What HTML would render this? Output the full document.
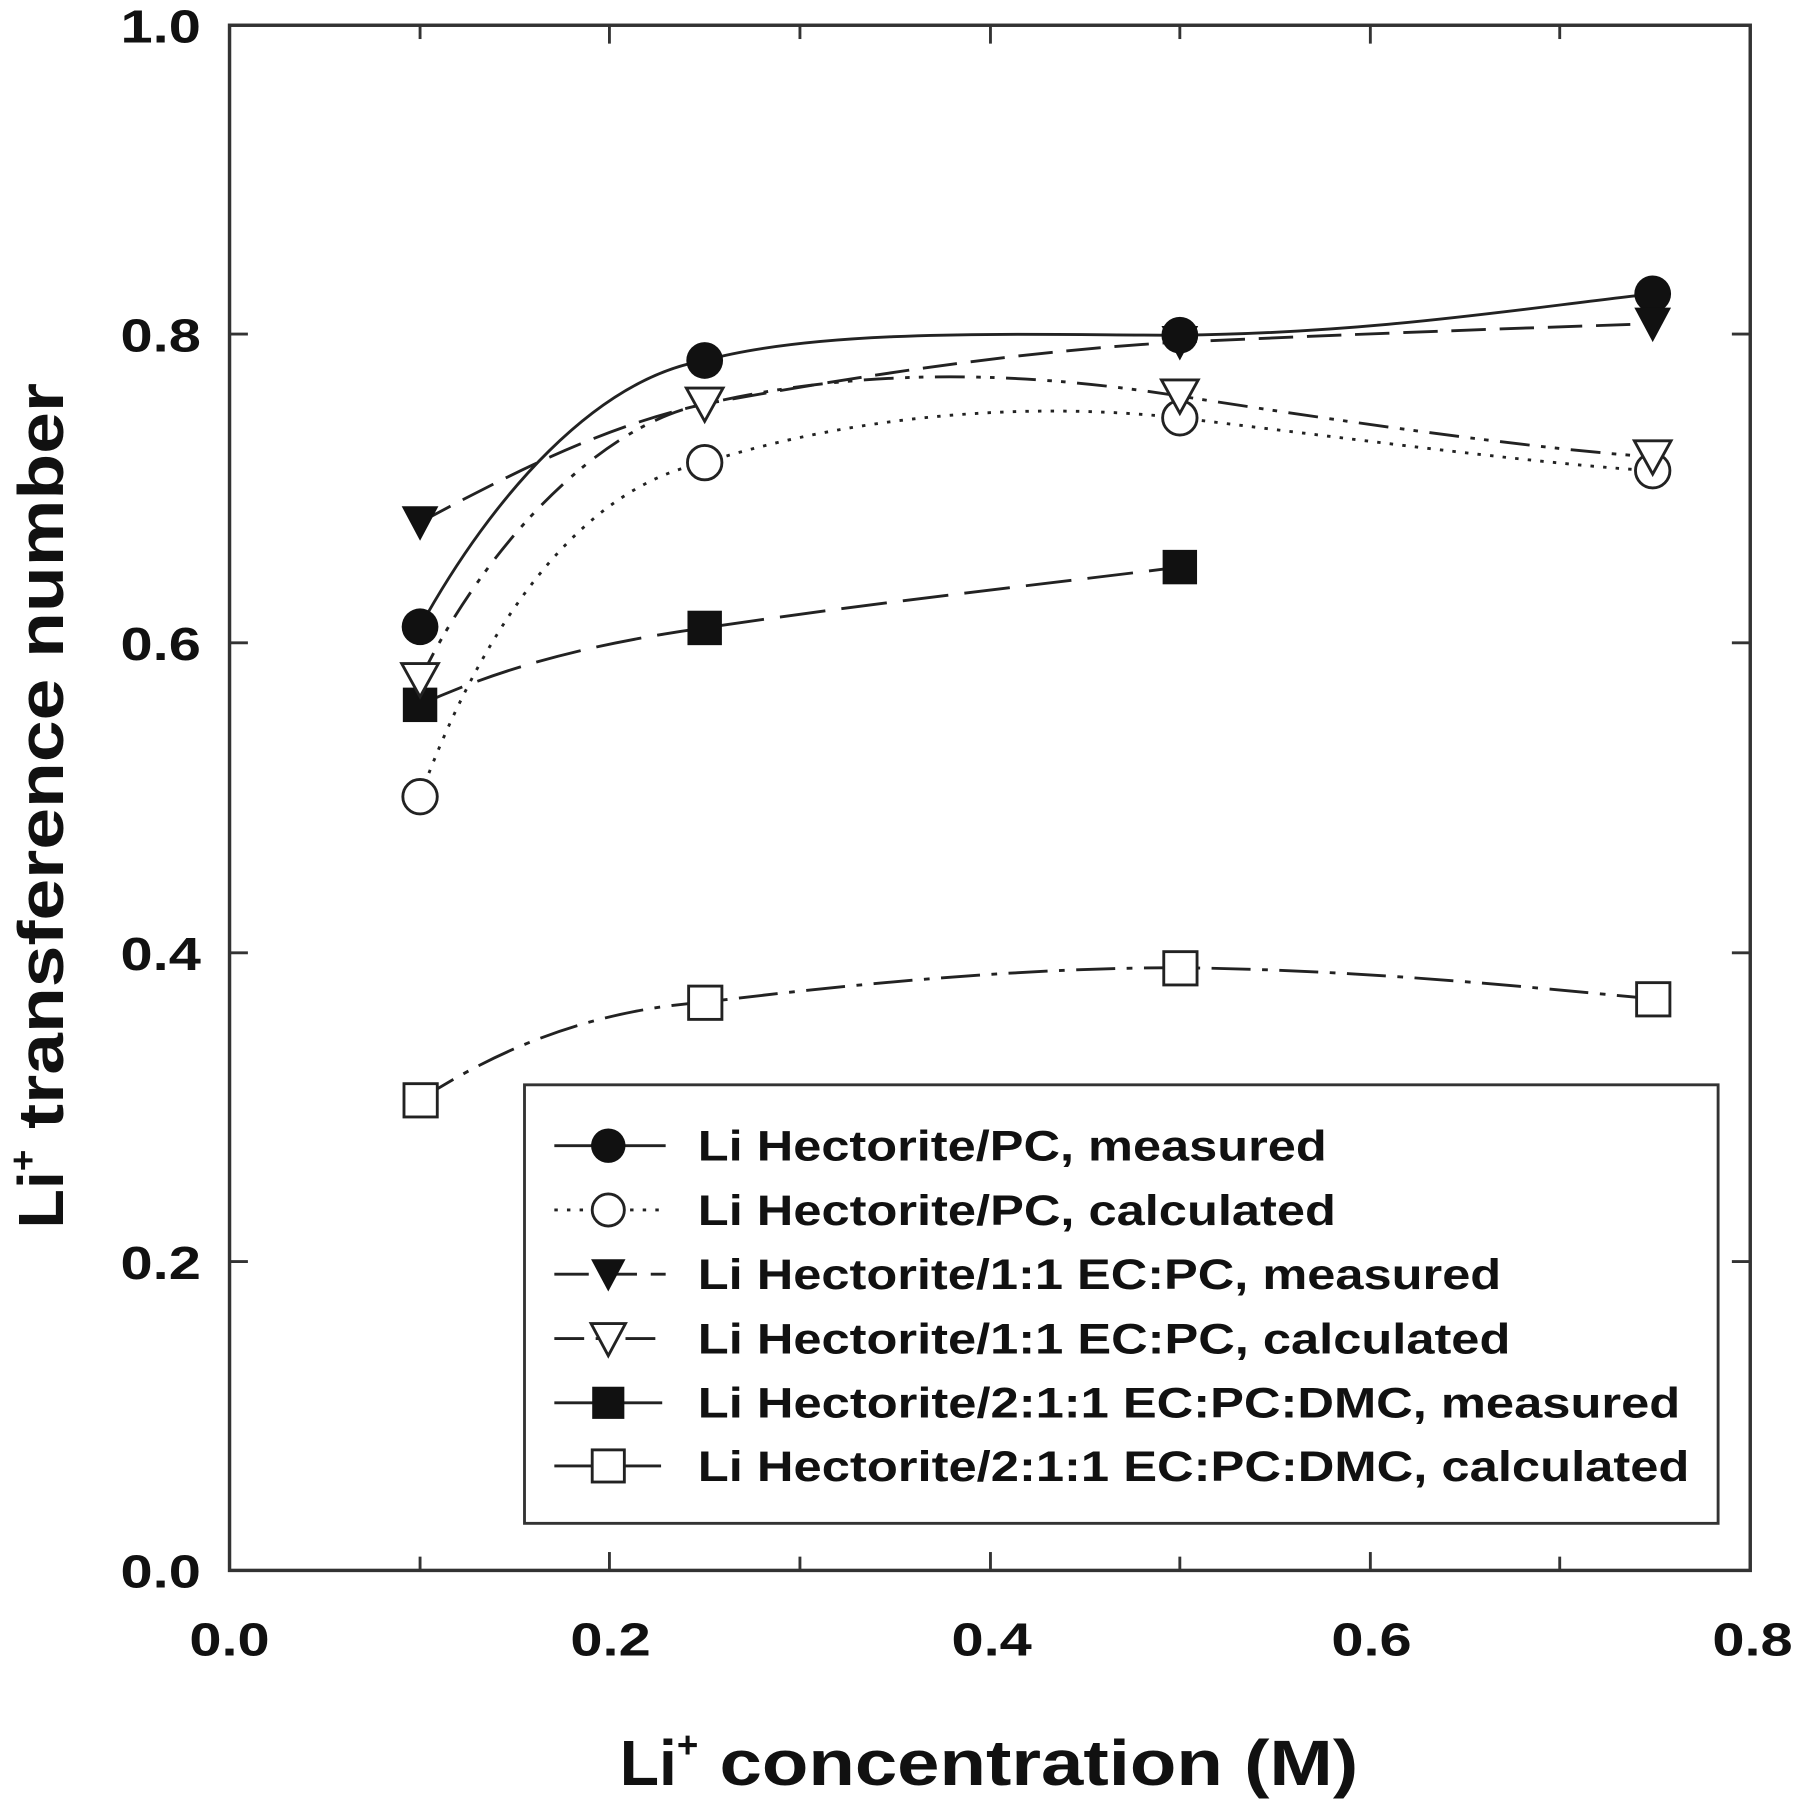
<!DOCTYPE html>
<html><head><meta charset="utf-8"><style>
html,body{margin:0;padding:0;background:#fff;}
svg{display:block;}
text{font-family:"Liberation Sans",Arial,sans-serif;font-weight:bold;fill:#111;}
</style></head><body>
<svg width="1795" height="1800" viewBox="0 0 1564 1568" preserveAspectRatio="none" xmlns="http://www.w3.org/2000/svg">
<rect x="0" y="0" width="1564" height="1568" fill="#fff"/>
<rect x="200" y="22" width="1325" height="1346" fill="none" stroke="#333" stroke-width="3"/>
<g stroke="#333" stroke-width="2.5">
<line x1="366" y1="1368" x2="366" y2="1356"/><line x1="366" y1="22" x2="366" y2="34"/>
<line x1="531" y1="1368" x2="531" y2="1352"/><line x1="531" y1="22" x2="531" y2="38"/>
<line x1="697" y1="1368" x2="697" y2="1356"/><line x1="697" y1="22" x2="697" y2="34"/>
<line x1="863" y1="1368" x2="863" y2="1352"/><line x1="863" y1="22" x2="863" y2="38"/>
<line x1="1028" y1="1368" x2="1028" y2="1356"/><line x1="1028" y1="22" x2="1028" y2="34"/>
<line x1="1194" y1="1368" x2="1194" y2="1352"/><line x1="1194" y1="22" x2="1194" y2="38"/>
<line x1="1359" y1="1368" x2="1359" y2="1356"/><line x1="1359" y1="22" x2="1359" y2="34"/>
<line x1="200" y1="1099" x2="216" y2="1099"/><line x1="1525" y1="1099" x2="1509" y2="1099"/>
<line x1="200" y1="830" x2="216" y2="830"/><line x1="1525" y1="830" x2="1509" y2="830"/>
<line x1="200" y1="560" x2="216" y2="560"/><line x1="1525" y1="560" x2="1509" y2="560"/>
<line x1="200" y1="291" x2="216" y2="291"/><line x1="1525" y1="291" x2="1509" y2="291"/>
</g>
<g font-size="40">
<text x="105" y="1383" textLength="70" lengthAdjust="spacingAndGlyphs">0.0</text>
<text x="105" y="1114" textLength="70" lengthAdjust="spacingAndGlyphs">0.2</text>
<text x="105" y="845" textLength="70" lengthAdjust="spacingAndGlyphs">0.4</text>
<text x="105" y="575" textLength="70" lengthAdjust="spacingAndGlyphs">0.6</text>
<text x="105" y="306" textLength="70" lengthAdjust="spacingAndGlyphs">0.8</text>
<text x="105" y="37" textLength="70" lengthAdjust="spacingAndGlyphs">1.0</text>
</g>
<g font-size="40">
<text x="165" y="1442" textLength="70" lengthAdjust="spacingAndGlyphs">0.0</text>
<text x="497" y="1442" textLength="70" lengthAdjust="spacingAndGlyphs">0.2</text>
<text x="829" y="1442" textLength="70" lengthAdjust="spacingAndGlyphs">0.4</text>
<text x="1160" y="1442" textLength="70" lengthAdjust="spacingAndGlyphs">0.6</text>
<text x="1492" y="1442" textLength="70" lengthAdjust="spacingAndGlyphs">0.8</text>
</g>
<text x="540" y="1555" font-size="56">Li<tspan font-size="32" dy="-24">+</tspan><tspan dy="24" textLength="575" lengthAdjust="spacingAndGlyphs"> concentration (M)</tspan></text>
<text transform="translate(55,1070) rotate(-90)" font-size="56">Li<tspan font-size="32" dy="-24">+</tspan><tspan dy="24" textLength="668" lengthAdjust="spacingAndGlyphs"> transference number</tspan></text>

<g fill="none" stroke="#222" stroke-width="2.5">
<path d="M366,546 C430,430 520,330 614,314 C720,285 900,292 1028,292 C1200,290 1330,268 1440,256"/>
<path d="M366,694 C400,600 480,430 614,403 C750,360 900,350 1028,364 C1200,385 1350,405 1440,410" stroke-dasharray="3,8"/>
<path d="M366,455 C450,410 530,370 614,352 C760,325 900,305 1028,298 C1200,290 1350,285 1440,282" stroke-dasharray="30,12"/>
<path d="M366,592 C420,480 520,370 614,352 C760,318 900,325 1028,345 C1200,372 1350,392 1440,398" stroke-dasharray="26,10,4,8,4,10"/>
<path d="M366,614 C440,580 520,560 614,547 C760,525 900,510 1028,494" stroke-dasharray="40,14"/>
<path d="M366,958 C440,910 520,880 614,873 C760,855 900,843 1028,843 C1200,845 1350,862 1440,870" stroke-dasharray="34,10,5,10"/>
</g>
<g fill="#111">
<circle cx="366" cy="546" r="16"/><circle cx="614" cy="314" r="16"/><circle cx="1028" cy="292" r="16"/><circle cx="1440" cy="256" r="16"/>
<path d="M350,441 L382,441 L366,471 Z"/><path d="M598,338 L630,338 L614,368 Z"/><path d="M1012,284 L1044,284 L1028,314 Z"/><path d="M1424,268 L1456,268 L1440,298 Z"/>
<rect x="351" y="599" width="30" height="30"/><rect x="599" y="532" width="30" height="30"/><rect x="1013" y="479" width="30" height="30"/>
</g>
<g fill="#fff" stroke="#222" stroke-width="2.5">
<circle cx="366" cy="694" r="15"/><circle cx="614" cy="403" r="15"/><circle cx="1028" cy="364" r="15"/><circle cx="1440" cy="410" r="15"/>
<path d="M350,578 L382,578 L366,607 Z"/><path d="M598,338 L630,338 L614,367 Z"/><path d="M1012,331 L1044,331 L1028,360 Z"/><path d="M1424,384 L1456,384 L1440,413 Z"/>
<rect x="352" y="944" width="29" height="29"/><rect x="600" y="859" width="29" height="29"/><rect x="1014" y="829" width="29" height="29"/><rect x="1426" y="856" width="29" height="29"/>
</g>

<rect x="457" y="945" width="1040" height="382" fill="#fff" stroke="#333" stroke-width="2.5"/>
<g stroke="#222" stroke-width="2.5" fill="none">
<line x1="483" y1="998" x2="580" y2="998"/>
<line x1="483" y1="1054" x2="580" y2="1054" stroke-dasharray="3,8"/>
<line x1="483" y1="1110" x2="580" y2="1110" stroke-dasharray="30,12"/>
<line x1="483" y1="1166" x2="580" y2="1166" stroke-dasharray="26,10,4,8,4,10"/>
<line x1="483" y1="1222" x2="580" y2="1222" stroke-dasharray="40,14"/>
<line x1="483" y1="1277" x2="580" y2="1277" stroke-dasharray="34,10,5,10"/>
</g>
<circle cx="530" cy="998" r="15" fill="#111"/>
<circle cx="530" cy="1054" r="14" fill="#fff" stroke="#222" stroke-width="2.5"/>
<path d="M515,1097 L545,1097 L530,1125 Z" fill="#111"/>
<path d="M515,1153 L545,1153 L530,1181 Z" fill="#fff" stroke="#222" stroke-width="2.5"/>
<rect x="516" y="1208" width="28" height="28" fill="#111"/>
<rect x="516" y="1263" width="28" height="28" fill="#fff" stroke="#222" stroke-width="2.5"/>
<g font-size="37">
<text x="608" y="1011" textLength="548" lengthAdjust="spacingAndGlyphs">Li Hectorite/PC, measured</text>
<text x="608" y="1067" textLength="556" lengthAdjust="spacingAndGlyphs">Li Hectorite/PC, calculated</text>
<text x="608" y="1123" textLength="700" lengthAdjust="spacingAndGlyphs">Li Hectorite/1:1 EC:PC, measured</text>
<text x="608" y="1179" textLength="708" lengthAdjust="spacingAndGlyphs">Li Hectorite/1:1 EC:PC, calculated</text>
<text x="608" y="1235" textLength="856" lengthAdjust="spacingAndGlyphs">Li Hectorite/2:1:1 EC:PC:DMC, measured</text>
<text x="608" y="1290" textLength="864" lengthAdjust="spacingAndGlyphs">Li Hectorite/2:1:1 EC:PC:DMC, calculated</text>
</g>
</svg>
</body></html>
